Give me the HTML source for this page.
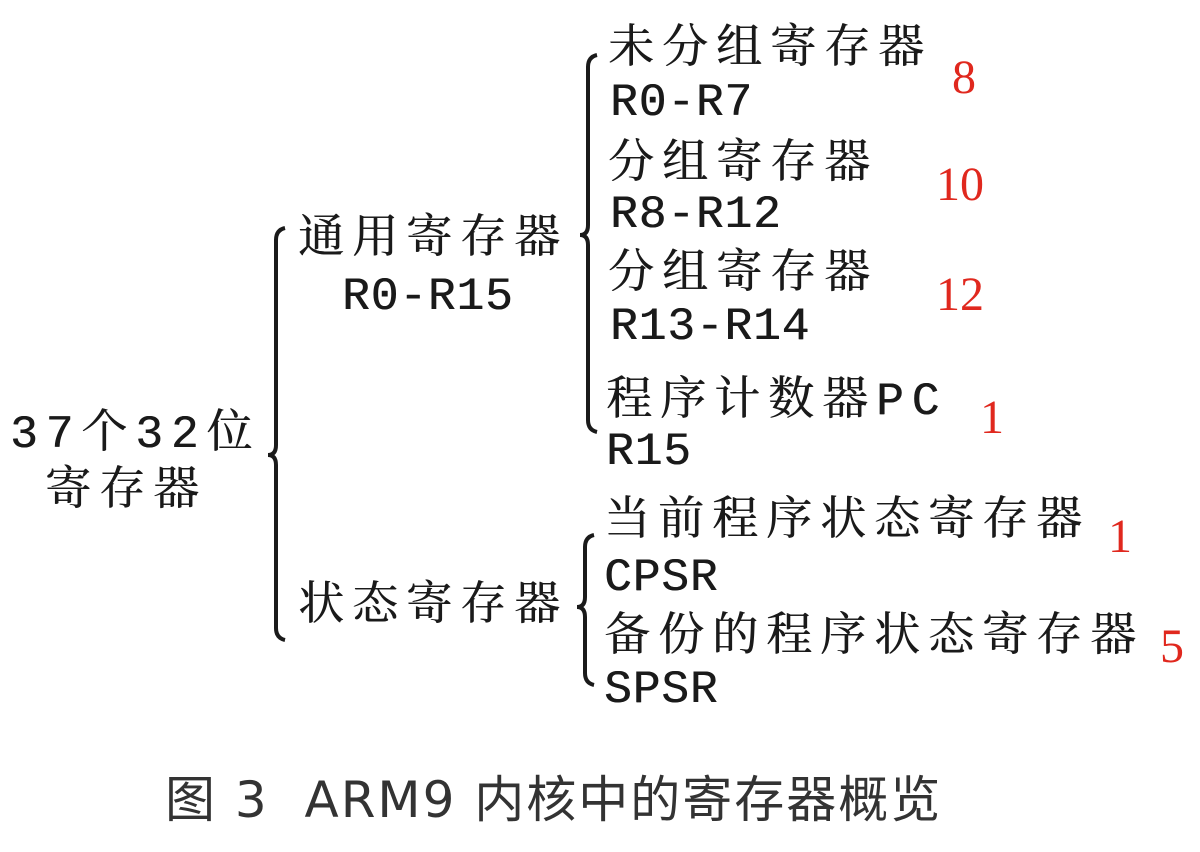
<!DOCTYPE html>
<html><head><meta charset="utf-8"><style>
body{margin:0;width:1200px;height:852px;background:#fff;overflow:hidden;position:relative}
.t{position:absolute;font-family:"Liberation Mono","Noto Serif CJK SC",serif;font-size:46px;line-height:60px;height:60px;color:#1a1a1a;white-space:nowrap;letter-spacing:1px;text-shadow:0.6px 0 0 #1a1a1a}
.c{letter-spacing:8px}
.r{position:absolute;font-family:"Liberation Serif",serif;font-size:48px;line-height:60px;color:#e0281e}
</style></head><body>
<svg width="1200" height="852" style="position:absolute;left:0;top:0" fill="none" stroke="#1a1a1a" stroke-width="4">
<path d="M285 228 Q276 230 276 240 L276 445 Q276 455 268 455 Q276 455 276 465 L276 628 Q276 638 285 640"/>
<path d="M597 55 Q588 57 588 67 L588 225 Q588 235 580 235 Q588 235 588 245 L588 420 Q588 430 597 432"/>
<path d="M594 535 Q585 537 585 547 L585 597 Q585 607 577 607 Q585 607 585 617 L585 673 Q585 683 594 685"/>
</svg>
<div class="t c" style="left:10px;top:405px">37个32位</div>
<div class="t c" style="left:45px;top:462px">寄存器</div>
<div class="t c" style="left:298px;top:210px">通用寄存器</div>
<div class="t" style="left:342px;top:267px">R0-R15</div>
<div class="t c" style="left:298px;top:577px">状态寄存器</div>
<div class="t c" style="left:608px;top:20px">未分组寄存器</div>
<div class="t" style="left:610px;top:73px">R0-R7</div>
<div class="t c" style="left:608px;top:135px">分组寄存器</div>
<div class="t" style="left:610px;top:185px">R8-R12</div>
<div class="t c" style="left:608px;top:245px">分组寄存器</div>
<div class="t" style="left:610px;top:297px">R13-R14</div>
<div class="t c" style="left:606px;top:372px">程序计数器PC</div>
<div class="t" style="left:606px;top:422px">R15</div>
<div class="t c" style="left:604px;top:492px">当前程序状态寄存器</div>
<div class="t" style="left:604px;top:548px">CPSR</div>
<div class="t c" style="left:604px;top:608px">备份的程序状态寄存器</div>
<div class="t" style="left:604px;top:660px">SPSR</div>
<div class="r" style="left:952px;top:48px">8</div>
<div class="r" style="left:936px;top:155px">10</div>
<div class="r" style="left:936px;top:265px">12</div>
<div class="r" style="left:980px;top:388px">1</div>
<div class="r" style="left:1108px;top:507px">1</div>
<div class="r" style="left:1160px;top:617px">5</div>
<div style="position:absolute;left:165px;top:770px;font-family:'DejaVu Sans','Noto Sans CJK SC',sans-serif;font-size:50px;letter-spacing:2px;line-height:60px;color:#333;white-space:nowrap">图 3&nbsp;&nbsp;ARM9 内核中的寄存器概览</div>
</body></html>
